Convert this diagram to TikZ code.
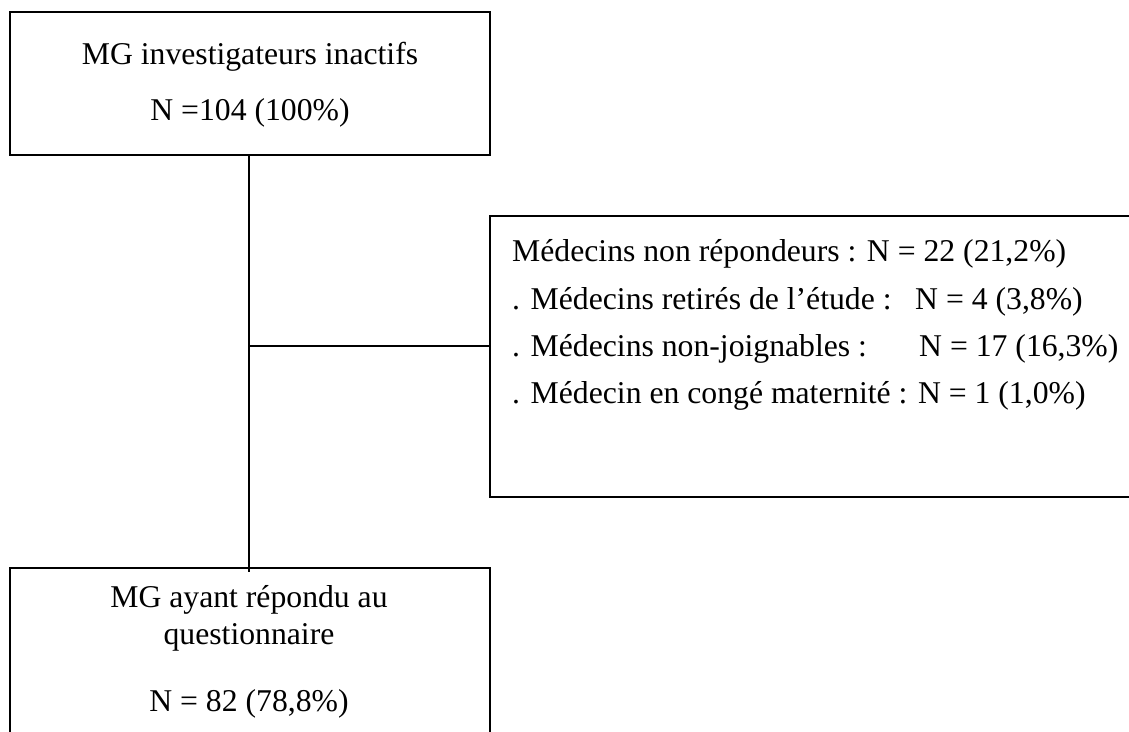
\documentclass[tikz,border=0pt]{standalone}
\usepackage{fontspec}
\setmainfont{Liberation Serif}
\begin{document}
\begin{tikzpicture}[x=1pt,y=-1pt,
  box/.style={draw=black, line width=2pt, fill=none, inner sep=0pt},
  txt/.style={inner sep=0pt, font=\fontsize{31.7pt}{38pt}\selectfont},
  conn/.style={draw=black, line width=2.2pt}]
\useasboundingbox (0,0) rectangle (1129,731);
\clip (0,0) rectangle (1129,731);
% boxes
\node[box, minimum width=480pt, minimum height=143pt] (top) at (250,83.5) {};
\node[box, minimum width=660pt, minimum height=281pt] (right) at (820,356.5) {};
\node[box, minimum width=480pt, minimum height=200pt] (bot) at (250,668) {};
% texts top box
\node[txt, anchor=base] (t1) at (250,64) {MG investigateurs inactifs};
\node[txt, anchor=base] (t2) at (250,120) {N =104 (100\%)};
% texts right box
\node[txt, anchor=base west] (r1) at (512,261) {Médecins non répondeurs : N = 22 (21,2\%)};
\node[txt, anchor=base west] (r2a) at (512,309) {. Médecins retirés de l’étude :};
\node[txt, anchor=base west] (r2b) at (915,309) {N = 4 (3,8\%)};
\node[txt, anchor=base west] (r3a) at (512,356) {. Médecins non-joignables :};
\node[txt, anchor=base west] (r3b) at (919,356) {N = 17 (16,3\%)};
\node[txt, anchor=base west] (r4) at (512,403) {. Médecin en congé maternité : N = 1 (1,0\%)};
% texts bottom box
\node[txt, anchor=base] (b1) at (249,607) {MG ayant répondu au};
\node[txt, anchor=base] (b2) at (249,644) {questionnaire};
\node[txt, anchor=base] (b3) at (249,711) {N = 82 (78,8\%)};
% connectors
\coordinate (j) at (249,346);
\draw[conn] (top.south -| j) -- ([yshift=-5pt]bot.north -| j);
\draw[conn] (j) -- (j -| right.west);
\end{tikzpicture}
\end{document}
